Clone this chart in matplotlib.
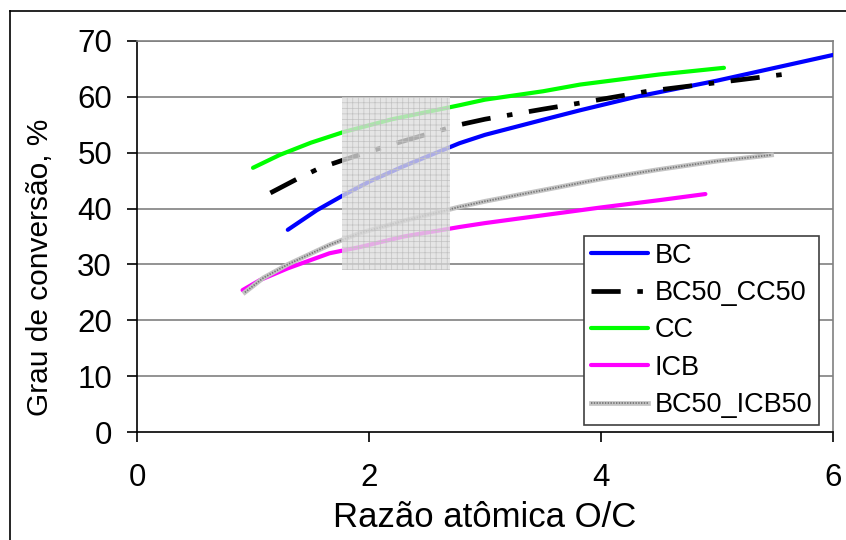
import matplotlib
matplotlib.use("Agg")
import matplotlib.pyplot as plt
from matplotlib.patches import Rectangle
from matplotlib.lines import Line2D
from matplotlib.legend_handler import HandlerTuple

plt.rcParams['font.family'] = ['Liberation Sans', 'DejaVu Sans']
plt.rcParams['lines.scale_dashes'] = False

# ---- data ----
bc_x = [1.30, 1.55, 1.78, 2.0, 2.3, 2.78, 3.0, 3.5, 3.82, 4.3, 5.0, 5.5, 6.0]
bc_y = [36.2, 39.7, 42.4, 44.8, 47.6, 51.7, 53.2, 55.9, 57.6, 60.0, 62.9, 65.2, 67.5]

bccc_x = [1.15, 1.38, 1.58, 1.78, 2.2, 2.78, 3.0, 3.5, 3.82, 4.4, 5.06, 5.68]
bccc_y = [42.8, 45.3, 47.3, 48.7, 51.5, 55.0, 56.0, 57.8, 58.9, 61.0, 62.7, 64.3]

cc_x = [1.0, 1.23, 1.5, 1.78, 2.2, 2.78, 3.0, 3.5, 3.82, 4.5, 5.06]
cc_y = [47.3, 49.6, 51.8, 53.7, 56.0, 58.5, 59.5, 61.0, 62.2, 64.0, 65.2]

icb_x = [0.91, 1.06, 1.3, 1.66, 1.92, 2.3, 2.78, 3.0, 3.5, 4.0, 4.5, 4.9]
icb_y = [25.4, 27.2, 29.3, 32.0, 33.1, 35.0, 36.7, 37.4, 38.8, 40.2, 41.5, 42.6]

bcicb_x = [0.93, 1.09, 1.3, 1.66, 1.92, 2.3, 2.78, 3.0, 3.5, 4.0, 4.5, 5.0, 5.47]
bcicb_y = [25.0, 27.6, 30.0, 33.5, 35.6, 37.8, 40.3, 41.3, 43.3, 45.3, 47.0, 48.5, 49.6]

shade_x = [1.77, 2.70]
shade_y = [29.0, 60.0]

x_ticks = [0, 2, 4, 6]
y_ticks = [0, 10, 20, 30, 40, 50, 60, 70]

# ---- figure ----
fig = plt.figure(figsize=(8.46, 5.40), dpi=100)
ax = fig.add_axes([137/846, 1 - 432/540, (833 - 137)/846, (432 - 41)/540])

# outer frame
fig.add_artist(Line2D([10/846, 10/846], [0, 1 - 11/540], transform=fig.transFigure, color='black', lw=1.2))
fig.add_artist(Line2D([10/846, 1], [1 - 11/540, 1 - 11/540], transform=fig.transFigure, color='black', lw=1.2))

for yv in y_ticks[1:]:
    ax.axhline(yv, color='#808080', lw=1.2, zorder=1)

h_bc, = ax.plot(bc_x, bc_y, color='#0000ff', lw=3.0, solid_capstyle='round', zorder=3)
h_bccc, = ax.plot(bccc_x, bccc_y, color='black', lw=3.4, dashes=(21, 12, 4, 12), zorder=3)
h_cc, = ax.plot(cc_x, cc_y, color='#00ff00', lw=3.0, solid_capstyle='round', zorder=3)
h_icb, = ax.plot(icb_x, icb_y, color='#ff00ff', lw=3.0, solid_capstyle='round', zorder=3)
h_bi1, = ax.plot(bcicb_x, bcicb_y, color='#c4c4c4', lw=3.4, zorder=3)
h_bi2, = ax.plot(bcicb_x, bcicb_y, color='#777777', lw=1.3, dashes=(1, 1), zorder=3)

rect = Rectangle((shade_x[0], shade_y[0]), shade_x[1] - shade_x[0], shade_y[1] - shade_y[0],
                 facecolor='#dedede', alpha=0.78, edgecolor='none', linewidth=0, zorder=4)
ax.add_patch(rect)
plt.rcParams['hatch.linewidth'] = 0.5
rect_h = Rectangle((shade_x[0], shade_y[0]), shade_x[1] - shade_x[0], shade_y[1] - shade_y[0],
                   facecolor='none', edgecolor='#c2c2c2', linewidth=0, hatch='+++', zorder=4.1)
ax.add_patch(rect_h)

ax.set_xlim(0, 6)
ax.set_ylim(0, 70)
ax.set_xticks(x_ticks)
ax.set_yticks(y_ticks)
ax.tick_params(axis='both', labelsize=22.5, direction='out', length=7, width=1.2)
ax.tick_params(axis='y', pad=11)
ax.tick_params(axis='x', pad=15)

for s in ['top', 'right']:
    ax.spines[s].set_color('#808080')
    ax.spines[s].set_linewidth(1.2)
for s in ['left', 'bottom']:
    ax.spines[s].set_color('black')
    ax.spines[s].set_linewidth(1.2)

ax.text(0.5, -0.243, 'Razão atômica O/C', transform=ax.transAxes, fontsize=25,
        ha='center', va='baseline')
ax.text(-0.139, 0.42, 'Grau de conversão, %', transform=ax.transAxes, fontsize=21.5,
        ha='center', va='center', rotation=90)

handles = [h_bc, h_bccc, h_cc, h_icb, (h_bi1, h_bi2)]
labels = ['BC', 'BC50_CC50', 'CC', 'ICB', 'BC50_ICB50']
leg = ax.legend(handles, labels, loc='lower right', bbox_to_anchor=(819/846, 1 - 425/540),
                bbox_transform=fig.transFigure, fontsize=19.5, frameon=True, fancybox=False,
                edgecolor='#404040', framealpha=1, handlelength=2.1, handletextpad=0.25,
                labelspacing=0.42, borderpad=0.25, borderaxespad=0,
                handler_map={tuple: HandlerTuple(ndivide=1, pad=0)})
leg.get_frame().set_linewidth(1.2)
leg.set_zorder(10)

fig.savefig('out.png', dpi=100)
